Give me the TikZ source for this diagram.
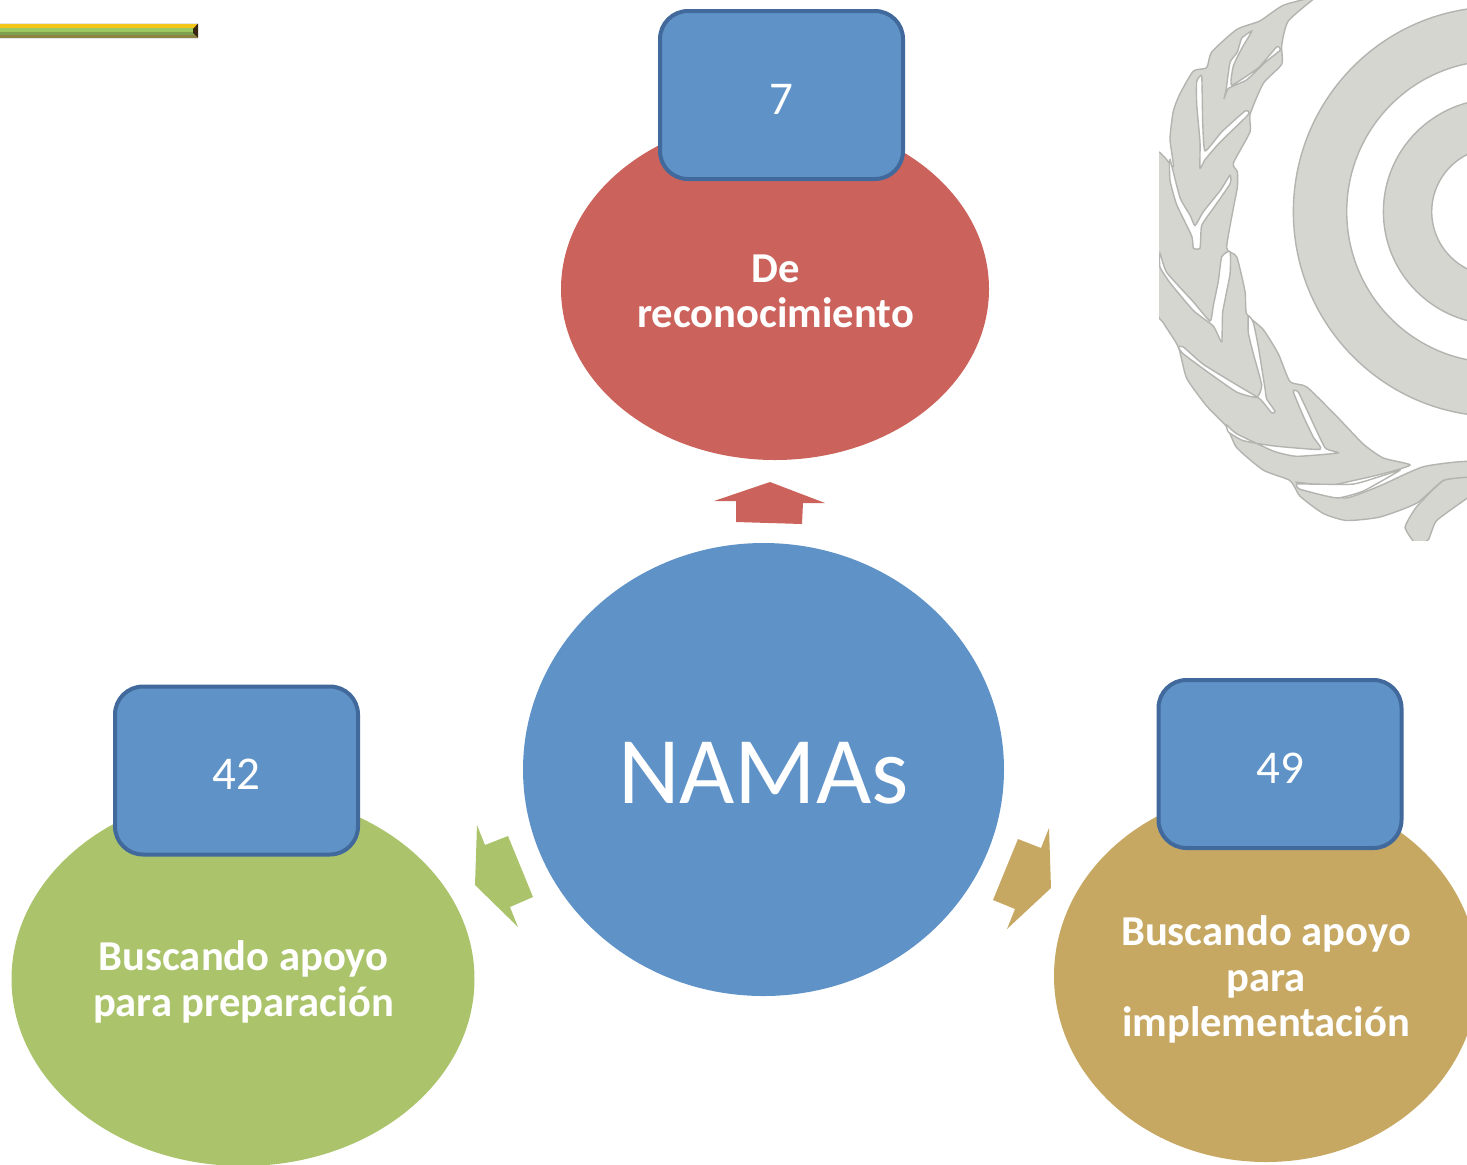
\documentclass[tikz,border=0pt]{standalone}
\usepackage{fontspec}
\setmainfont{Carlito}
\usetikzlibrary{shapes.geometric}
\definecolor{cblue}{HTML}{5F93C8}
\definecolor{cedge}{HTML}{41699B}
\definecolor{cred}{HTML}{CB635C}
\definecolor{cgreen}{HTML}{ABC46C}
\definecolor{cgold}{HTML}{C7A863}
\definecolor{emfill}{HTML}{D6D6D1}
\definecolor{emline}{HTML}{B3B3AF}
\definecolor{baryellow}{HTML}{F3C61A}
\definecolor{bargreen}{HTML}{9CC862}
\definecolor{barolive}{HTML}{7FA04E}
\definecolor{bardark}{HTML}{8C8440}
\tikzset{
  blob/.style={ellipse,inner sep=0pt},
  blobtext/.style={inner sep=0pt,text=white,align=center,font=\fontsize{21.3}{22.7}\selectfont\bfseries},
  countbox/.style={draw=cedge,line width=2pt,fill=cblue,rounded corners=14pt,text=white,minimum width=121.5pt,minimum height=84pt,inner sep=0pt,text height=19pt,text depth=0pt,font=\fontsize{23.5}{27}\selectfont},
  emblem/.style={fill=emfill,draw=emline,line width=0.7pt},
  slit/.style={fill=white,draw=emline,line width=0.7pt},
}
\begin{document}
\begin{tikzpicture}[x=0.5pt,y=-0.5pt]
\useasboundingbox (0,0) rectangle (1467,1164);
% top-left bar
\fill[black!10] (0,22.5) rectangle (198,38.5);
\fill[baryellow] (0,23.5) rectangle (198,28);
\fill[bargreen] (0,28) rectangle (198,32);
\fill[barolive] (0,32) rectangle (198,34.5);
\fill[bardark] (0,34.5) rectangle (198,37.5);
\fill[black!70!brown] (198,23.5) -- (198,37.5) -- (193,33) -- (193,29) -- cycle;
% emblem
\begin{scope}
\clip (1159,0) rectangle (1467,540);
\begin{scope}[shift={(1150,0)},x=0.1667pt,y=-0.1735pt]
\path[emblem,even odd rule] (1040,610) circle[x radius=610,y radius=590] (1040,610) circle[x radius=450,y radius=435];
\path[emblem,even odd rule] (1040,610) circle[x radius=340,y radius=325] (1040,610) circle[x radius=195,y radius=185];
\path[emblem] plot[smooth,tension=0.35] coordinates {(500,-10)(415,60)(395,130)(395,185)(340,240)(300,330)(300,380)(250,470)(262,495)(262,540)(250,600)(230,715)(260,740)(285,840)(290,905)(340,950)(385,1020)(420,1100)(470,1115)(560,1200)(640,1280)(700,1320)(780,1340)(700,1365)(610,1385)(530,1400)(440,1390)(520,1420)(590,1435)(690,1400)(820,1345)(960,1330)(960,1375)(880,1385)(800,1450)(690,1490)(590,1500)(520,1480)(450,1430)(420,1385)(340,1355)(260,1290)(230,1230)(170,1170)(110,1090)(85,1000)(40,930)(20,880)(20,460)(40,450)(70,480)(60,400)(70,320)(90,270)(130,205)(170,195)(185,150)(260,85)(330,60)(400,15)(500,-10)} -- cycle;
\path[slit] plot[smooth cycle,tension=0.3] coordinates {(305,90)(275,110)(262,150)(240,180)(228,260)(222,285)(235,255)(290,230)(345,180)(390,145)(380,135)(325,195)(245,245)(250,190)(275,140)};
\path[slit] plot[smooth cycle,tension=0.3] coordinates {(155,220)(140,235)(140,300)(150,410)(150,485)(165,460)(210,410)(295,330)(285,320)(215,380)(165,435)(158,350)};
\path[slit] plot[smooth cycle,tension=0.3] coordinates {(60,520)(80,590)(125,680)(130,715)(150,715)(155,650)(190,600)(240,530)(240,505)(210,550)(160,610)(135,650)(120,620)(90,570)(60,460)};
\path[slit] plot[smooth cycle,tension=0.3] coordinates {(240,725)(215,740)(205,810)(190,880)(180,925)(130,870)(50,785)(30,730)(30,770)(60,815)(130,895)(190,940)(215,985)(218,900)(240,790)};
\path[slit] plot[smooth cycle,tension=0.3] coordinates {(295,910)(310,930)(325,1000)(345,1120)(350,1150)(375,1185)(365,1190)(330,1150)(270,1115)(160,1050)(100,1000)(85,1000)(100,1020)(170,1070)(260,1130)(320,1145)(335,1110)(310,1020)(295,960)};
\path[slit] plot[smooth cycle,tension=0.3] coordinates {(435,1125)(445,1130)(470,1180)(525,1290)(565,1305)(440,1315)(370,1300)(260,1250)(230,1225)(235,1245)(280,1270)(370,1285)(510,1295)(490,1260)(460,1200)(430,1130)};
\path[slit] plot[smooth cycle,tension=0.3] coordinates {(440,1395)(450,1410)(560,1435)(640,1415)(750,1355)(700,1370)(610,1395)(480,1395)};
\path[emblem] plot[smooth,tension=0.3] coordinates {(960,1375)(880,1385)(800,1460)(765,1520)(800,1570)(835,1555)(860,1500)(960,1430)} -- cycle;
\end{scope}
\end{scope}
% block arrows
\fill[cred] (714,501) -- (770,482) -- (825,503) -- (803,503) -- (802,524) -- (736,522) -- (736,501) -- cycle;
\fill[cgreen] (477,825) -- (485,845) -- (508,836) -- (533,897) -- (510,907) -- (518,927) -- (475,885) -- cycle;
\fill[cgold] (1049,828) -- (1051,888) -- (1007,929) -- (1015,909) -- (993,900) -- (1018,839) -- (1041,848) -- cycle;
% blobs
\node[blob,fill=cred,minimum width=214pt,minimum height=171pt] (red) at (775,289) {};
\node[blob,fill=cgreen,minimum width=231.5pt,minimum height=187pt] (green) at (243,979) {};
\node[blob,fill=cgold,minimum width=212pt,minimum height=186pt] (gold) at (1266,976) {};
\node[blobtext] (redtext) at (775.5,291.5) {De\\reconocimiento};
\node[blobtext] (greentext) at (243.5,982) {Buscando apoyo\\para preparación};
\node[blobtext] (goldtext) at (1266,979.5) {Buscando apoyo\\para\\implementación};
\node[blob,fill=cblue,minimum width=240.5pt,minimum height=226.5pt,text=white,text height=34.2pt,text depth=0pt,font=\fontsize{47.7}{50}\selectfont] (namas) at (763.5,769.5) {NAMAs};
% count boxes
\node[countbox] (b7) at (781.5,95) {7};
\node[countbox] (b42) at (236.5,770.5) {42};
\node[countbox] (b49) at (1280,764) {49};
\end{tikzpicture}
\end{document}
